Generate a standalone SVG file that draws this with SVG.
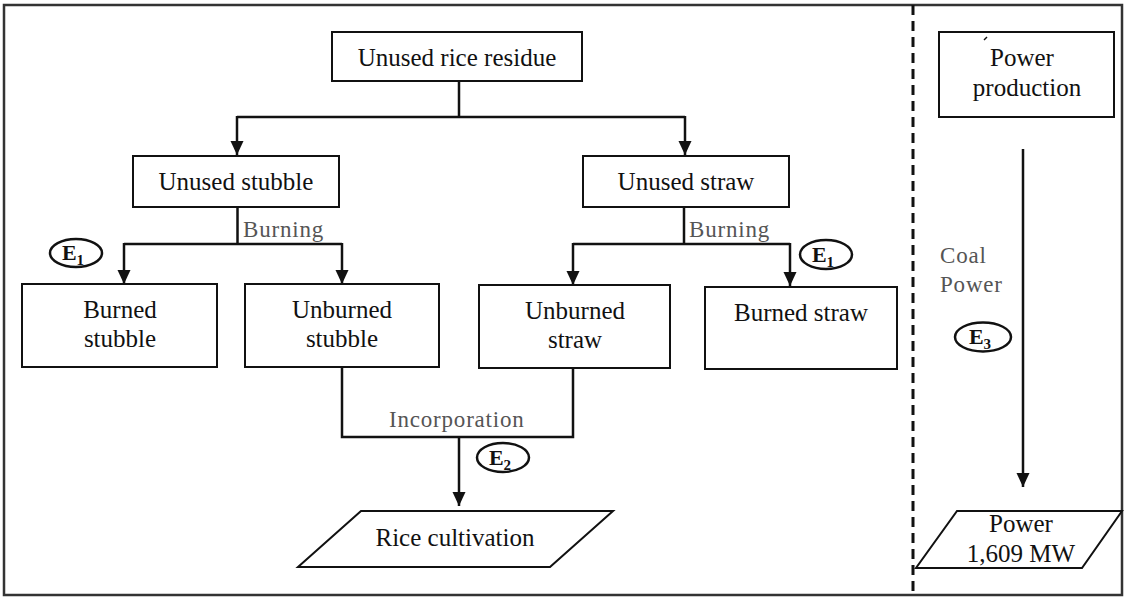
<svg xmlns="http://www.w3.org/2000/svg" width="1124" height="597" viewBox="0 0 1124 597">
<style>
.box{fill:#fff;stroke:#111;stroke-width:2}
.ln{fill:none;stroke:#111;stroke-width:2.5}
.t{font-family:"Liberation Serif","Times New Roman",serif;font-size:25px;fill:#111;text-anchor:middle}
.lbl{font-family:"Liberation Serif","Times New Roman",serif;font-size:23px;fill:#555;letter-spacing:0.8px}
.ell{fill:#fff;stroke:#111;stroke-width:2.5}
.e{font-family:"Liberation Serif","Times New Roman",serif;font-size:22px;font-weight:bold;fill:#111;text-anchor:middle}
.sub{font-size:15px}
</style>
<defs>
<marker id="ah" viewBox="0 0 14 14" refX="14" refY="7" markerWidth="14" markerHeight="14" markerUnits="userSpaceOnUse" orient="auto">
<path d="M0,0.5 L14,7 L0,13.5 Z" fill="#111"/>
</marker>
</defs>
<rect x="0" y="0" width="1124" height="597" fill="#fff"/>
<rect x="4" y="5" width="1118" height="590" fill="none" stroke="#333" stroke-width="2.5"/>
<line x1="913" y1="5" x2="913" y2="595" stroke="#111" stroke-width="3" stroke-dasharray="10 6"/>

<g id="connectors">
<path class="ln" d="M459,81 V117 M237,117 H685"/>
<line class="ln" x1="237" y1="116" x2="237" y2="155" marker-end="url(#ah)"/>
<line class="ln" x1="685" y1="116" x2="685" y2="155" marker-end="url(#ah)"/>
<path class="ln" d="M237.5,207 V244 M124,244 H342"/>
<line class="ln" x1="124" y1="243" x2="124" y2="284" marker-end="url(#ah)"/>
<line class="ln" x1="342" y1="243" x2="342" y2="284" marker-end="url(#ah)"/>
<path class="ln" d="M684,208 V244 M573,244 H790"/>
<line class="ln" x1="573" y1="243" x2="573" y2="285" marker-end="url(#ah)"/>
<line class="ln" x1="790" y1="243" x2="790" y2="286" marker-end="url(#ah)"/>
<path class="ln" d="M342,367 V437 H573 V368"/>
<line class="ln" x1="459" y1="437" x2="459" y2="506" marker-end="url(#ah)"/>
<line class="ln" x1="1023" y1="149" x2="1023" y2="487" marker-end="url(#ah)"/>
<text class="lbl" x="243" y="237">Burning</text>
<text class="lbl" x="689" y="237">Burning</text>
<text class="lbl" x="389" y="427">Incorporation</text>
<text class="lbl" x="940" y="263">Coal</text>
<text class="lbl" x="940" y="292">Power</text>
</g>

<g id="n-residue">
<rect class="box" x="332" y="32" width="250" height="49"/>
<text class="t" x="457" y="66">Unused rice residue</text>
</g>
<g id="n-stubble">
<rect class="box" x="133" y="156" width="206" height="51"/>
<text class="t" x="236" y="190">Unused stubble</text>
</g>
<g id="n-straw">
<rect class="box" x="583" y="156" width="206" height="51"/>
<text class="t" x="686" y="190">Unused straw</text>
</g>
<g id="n-burned-stubble">
<rect class="box" x="22" y="284" width="195" height="83"/>
<text class="t" x="120" y="318">Burned</text>
<text class="t" x="120" y="347">stubble</text>
</g>
<g id="n-unburned-stubble">
<rect class="box" x="245" y="284" width="194" height="83"/>
<text class="t" x="342" y="318">Unburned</text>
<text class="t" x="342" y="347">stubble</text>
</g>
<g id="n-unburned-straw">
<rect class="box" x="479" y="285" width="191" height="83"/>
<text class="t" x="575" y="319">Unburned</text>
<text class="t" x="575" y="348">straw</text>
</g>
<g id="n-burned-straw">
<rect class="box" x="705" y="287" width="192" height="82"/>
<text class="t" x="801" y="321">Burned straw</text>
</g>
<g id="n-rice">
<polygon class="box" points="361,511 613,511 550,567 298,567"/>
<text class="t" x="455" y="546">Rice cultivation</text>
</g>
<g id="n-power-prod">
<rect class="box" x="939" y="32" width="175" height="85"/>
<path d="M984,40 L987,37" stroke="#111" stroke-width="1.5"/>
<text class="t" x="1022" y="66">Power</text>
<text class="t" x="1027" y="96">production</text>
</g>
<g id="n-power">
<polygon class="box" points="957,511 1122,511 1082,568 916,568"/>
<text class="t" x="1021" y="532">Power</text>
<text class="t" x="1021" y="562">1,609 MW</text>
</g>

<g id="e1-left">
<ellipse class="ell" cx="76" cy="253" rx="26" ry="14"/>
<text class="e" x="73" y="260">E<tspan class="sub" dy="5">1</tspan></text>
</g>
<g id="e1-right">
<ellipse class="ell" cx="826" cy="254.5" rx="26" ry="14.5"/>
<text class="e" x="823" y="261.5">E<tspan class="sub" dy="5">1</tspan></text>
</g>
<g id="e2">
<ellipse class="ell" cx="503" cy="457.5" rx="26" ry="14.5"/>
<text class="e" x="500" y="464.5">E<tspan class="sub" dy="5">2</tspan></text>
</g>
<g id="e3">
<ellipse class="ell" cx="983" cy="337" rx="28" ry="14.5"/>
<text class="e" x="980" y="344">E<tspan class="sub" dy="5">3</tspan></text>
</g>
</svg>
